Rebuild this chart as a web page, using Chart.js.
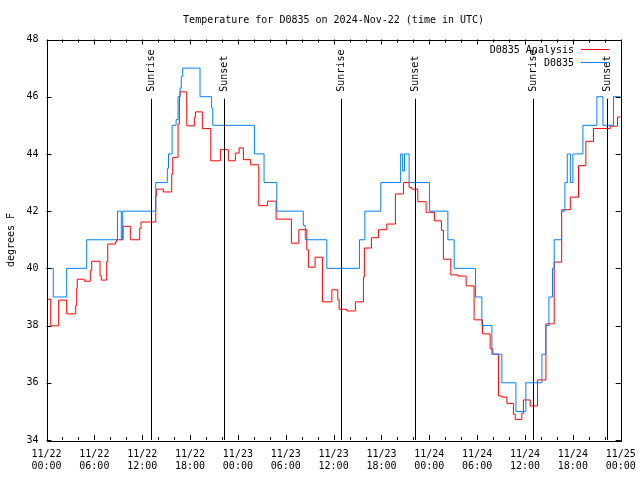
<!DOCTYPE html>
<html lang="en">
<head>
    <meta charset="UTF-8">
    <title>Temperature for D0835</title>
    <script src="https://cdn.jsdelivr.net/npm/chart.js"></script>
    <style>
        html, body { margin: 0; padding: 0; background: #fff; }
        #wrap { width: 640px; height: 480px; }
    </style>
</head>
<body>
    <div id="wrap"><canvas id="tempChart" width="640" height="480"></canvas></div>

    <script>
        // hours since 2024-11-22 00:00 UTC
        const obsHours = [0, 0.85, 2.53, 5.04, 8.9, 9.38, 9.56, 13.7, 15.15, 15.3, 15.75, 16.25, 16.5, 16.75, 16.9, 17.08,
            19.25, 20.7, 20.85, 26.07, 27.28, 28.88, 32.2, 32.45, 35.15, 39.24, 39.92, 41.92, 44.41, 44.66, 44.9, 45.47,
            48.02, 50.33, 51.12, 53.79, 54.59, 55.85, 57.1, 58.86, 60.11, 62.12, 62.62, 63.0, 63.45, 63.66, 64.58, 65.0,
            65.3, 65.68, 66.0, 67.26, 69.02, 69.77, 71.1, 72];
        const obsTemps = [40, 39, 40, 41, 42, 41, 42, 43, 43.5, 44, 45, 45.2, 46, 46.3, 46.7, 47,
            46, 45.6, 45, 44, 43, 42, 41.5, 41, 40, 41, 42, 43, 44, 43.4, 44, 43,
            42, 41, 40, 39, 38, 37, 36, 35, 36, 37, 38, 39, 40, 41, 42, 43,
            44, 43, 44, 45, 46, 45, 46, 46];

        const anaHours = [0, 0.53, 1.53, 2.53, 3.66, 3.79, 3.86, 4.74, 5.49, 5.67, 6.71, 6.87, 7.55, 7.68, 8.63, 8.8,
            9.6, 10.51, 11.69, 11.85, 13.7, 13.82, 14.65, 15.7, 15.83, 16.5, 16.66, 16.75, 17.59, 18.54, 18.67, 19.54,
            20.6, 21.8, 22.8, 23.68, 24.15, 24.69, 25.6, 26.62, 27.7, 28.79, 30.71, 31.64, 32.64, 32.84, 33.68, 34.6,
            35.78, 36.53, 36.69, 37.66, 38.73, 39.74, 39.86, 40.74, 41.62, 42.67, 43.75, 44.76, 45.47, 45.81, 46.56, 47.6,
            48.64, 49.52, 49.77, 50.7, 51.6, 52.62, 53.62, 54.67, 55.63, 55.97, 56.67, 57.1, 57.73, 58.55, 58.77, 59.6,
            59.8, 60.65, 61.57, 62.62, 63.66, 64.6, 65.68, 66.71, 67.63, 68.59, 70.68, 71.6, 72];
        const anaTemps = [38.92, 37.99, 38.89, 38.41, 38.7, 39.31, 39.62, 39.55, 39.93, 40.25, 39.74, 39.59, 40.23, 40.85, 40.92, 41.0,
            41.47, 41.0, 41.4, 41.62, 42.52, 42.77, 42.67, 43.29, 43.88, 45.05, 46.0, 46.17, 44.98, 45.28, 45.47, 44.89,
            43.76, 44.15, 43.76, 44.03, 44.21, 43.8, 43.62, 42.19, 42.35, 41.72, 40.88, 41.35, 40.65, 40.04, 40.39, 38.83,
            39.25, 38.9, 38.57, 38.51, 38.83, 39.7, 40.71, 41.07, 41.35, 41.55, 42.6, 43.0, 42.83, 42.77, 42.33, 41.96,
            41.66, 41.33, 40.32, 39.77, 39.73, 39.39, 38.2, 37.71, 37.19, 37.0, 35.54, 35.5, 35.28, 34.9, 34.72, 34.93,
            35.4, 35.19, 36.1, 38.06, 40.22, 42.05, 42.49, 43.59, 44.44, 44.89, 44.97, 45.29, 45.29];

        const sunHours = [13.06, 22.29, 36.98, 46.25, 61.03, 70.29];
        const sunLabels = ['Sunrise', 'Sunset', 'Sunrise', 'Sunset', 'Sunrise', 'Sunset'];
        const sunLineTop = 45.93;

        const xTickLabels = [
            ['11/22', '00:00'], ['11/22', '06:00'], ['11/22', '12:00'], ['11/22', '18:00'],
            ['11/23', '00:00'], ['11/23', '06:00'], ['11/23', '12:00'], ['11/23', '18:00'],
            ['11/24', '00:00'], ['11/24', '06:00'], ['11/24', '12:00'], ['11/24', '18:00'],
            ['11/25', '00:00']
        ];

        const FONT = '10px "DejaVu Sans Mono", monospace';
        const RED = '#ff0000';
        const BLUE = '#0080ff';

        function toPoints(xs, ys) {
            return xs.map((x, i) => ({ x: x, y: ys[i] }));
        }

        // gnuplot-ish frame, inward ticks, sun lines, legend, title
        const decor = {
            id: 'decor',
            afterDatasetsDraw(chart) {
                const ctx = chart.ctx;
                const a = chart.chartArea;
                const xs = chart.scales.x, ys = chart.scales.y;
                ctx.save();
                ctx.strokeStyle = '#000';
                ctx.lineWidth = 1;

                // sun lines
                ctx.font = FONT;
                ctx.fillStyle = '#000';
                sunHours.forEach((h, i) => {
                    const px = Math.round(xs.getPixelForValue(h)) + 0.5;
                    ctx.beginPath();
                    ctx.moveTo(px, ys.getPixelForValue(sunLineTop));
                    ctx.lineTo(px, a.bottom);
                    ctx.stroke();
                    ctx.save();
                    ctx.translate(px, ys.getPixelForValue(sunLineTop) - 7);
                    ctx.rotate(-Math.PI / 2);
                    ctx.textAlign = 'left';
                    ctx.textBaseline = 'middle';
                    ctx.fillText(sunLabels[i], 0, 0);
                    ctx.restore();
                });

                // frame
                ctx.strokeRect(Math.round(a.left) + 0.5, Math.round(a.top) + 0.5,
                    Math.round(a.right - a.left), Math.round(a.bottom - a.top));

                // x ticks every 2 h, longer every 6 h
                for (let h = 0; h <= 72; h += 2) {
                    const px = Math.round(xs.getPixelForValue(h)) + 0.5;
                    const len = (h % 6 === 0) ? 5 : 3;
                    ctx.beginPath();
                    ctx.moveTo(px, a.bottom); ctx.lineTo(px, a.bottom - len);
                    ctx.moveTo(px, a.top); ctx.lineTo(px, a.top + len);
                    ctx.stroke();
                }
                // y ticks
                for (let v = 34; v <= 48; v += 2) {
                    const py = Math.round(ys.getPixelForValue(v)) + 0.5;
                    ctx.beginPath();
                    ctx.moveTo(a.left, py); ctx.lineTo(a.left + 5, py);
                    ctx.moveTo(a.right, py); ctx.lineTo(a.right - 5, py);
                    ctx.stroke();
                }

                // legend
                ctx.font = FONT;
                ctx.textAlign = 'right';
                ctx.textBaseline = 'middle';
                const legend = [['D0835 Analysis', RED, 50], ['D0835', BLUE, 63]];
                legend.forEach(([label, color, y]) => {
                    ctx.fillStyle = '#000';
                    ctx.fillText(label, 574, y);
                    ctx.strokeStyle = color;
                    ctx.beginPath();
                    ctx.moveTo(581, y - 0.5); ctx.lineTo(609, y - 0.5);
                    ctx.stroke();
                });

                // title
                ctx.fillStyle = '#000';
                ctx.textAlign = 'center';
                ctx.fillText('Temperature for D0835 on 2024-Nov-22 (time in UTC)', (a.left + a.right) / 2, 20);

                // y axis title
                ctx.save();
                ctx.translate(11, 240);
                ctx.rotate(-Math.PI / 2);
                ctx.fillText('degrees F', 0, 0);
                ctx.restore();

                ctx.restore();
            }
        };

        const ctx = document.getElementById('tempChart').getContext('2d');
        new Chart(ctx, {
            type: 'line',
            data: {
                datasets: [
                    {
                        label: 'D0835',
                        data: toPoints(obsHours, obsTemps),
                        borderColor: BLUE,
                        borderWidth: 1,
                        stepped: 'before',
                        pointRadius: 0,
                        fill: false,
                        order: 0
                    },
                    {
                        label: 'D0835 Analysis',
                        data: toPoints(anaHours, anaTemps),
                        borderColor: RED,
                        borderWidth: 1,
                        stepped: 'before',
                        pointRadius: 0,
                        fill: false,
                        order: 1
                    }
                ]
            },
            options: {
                responsive: false,
                animation: false,
                layout: { padding: { left: 0, right: 19.3, top: 39.5, bottom: 0 } },
                plugins: {
                    legend: { display: false },
                    title: { display: false },
                    tooltip: { enabled: false }
                },
                scales: {
                    x: {
                        type: 'linear',
                        min: 0,
                        max: 72,
                        afterFit: s => { s.height = 40; s.paddingLeft = 0; s.paddingRight = 0; },
                        afterBuildTicks: s => { s.ticks = xTickLabels.map((_, i) => ({ value: i * 6 })); },
                        grid: { display: false, drawTicks: false },
                        border: { display: false },
                        ticks: {
                            font: { family: 'DejaVu Sans Mono', size: 10 },
                            color: '#000',
                            padding: 8,
                            maxRotation: 0,
                            autoSkip: false,
                            callback: (v) => xTickLabels[Math.round(v / 6)]
                        }
                    },
                    y: {
                        min: 34,
                        max: 48,
                        afterFit: s => { s.width = 46.5; s.paddingTop = 0; s.paddingBottom = 0; },
                        grid: { display: false, drawTicks: false },
                        border: { display: false },
                        ticks: {
                            stepSize: 2,
                            font: { family: 'DejaVu Sans Mono', size: 10 },
                            color: '#000',
                            padding: 8
                        }
                    }
                }
            },
            plugins: [decor]
        });
    </script>
</body>
</html>
